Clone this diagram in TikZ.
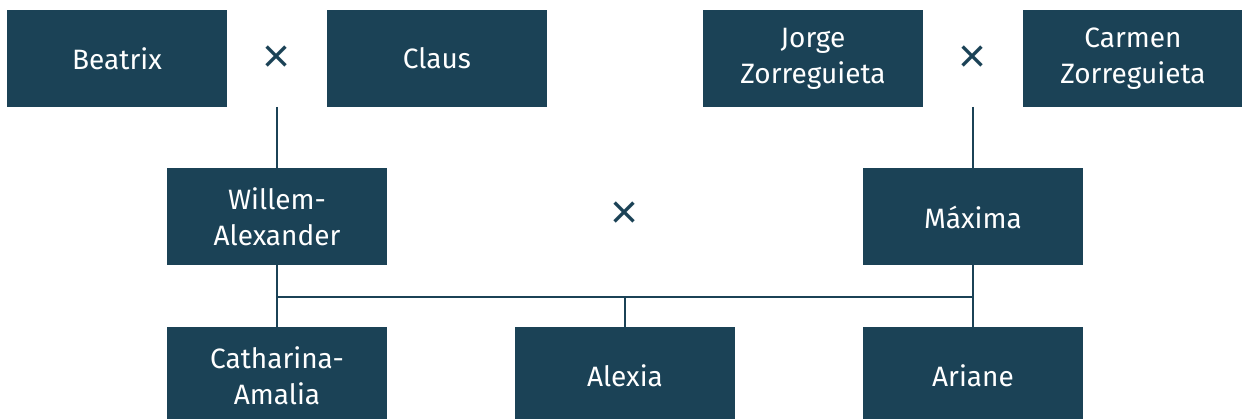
\documentclass[tikz,border=0pt]{standalone}
\usepackage{fontspec}
\setmainfont{Fira Sans}
\newfontfamily\crossfont{Liberation Sans}
\usepackage{tikz}
\definecolor{royal}{HTML}{1B4256}

\begin{document}
\begin{tikzpicture}[x=1pt,y=-1pt,
  person/.style={fill=royal, text=white, minimum width=220pt, minimum height=97pt, align=center, inner sep=0pt, outer sep=0pt, font=\fontsize{28}{36}\selectfont},
  wed/.style={text=royal, inner sep=0pt, font=\crossfont\fontsize{48}{50}\selectfont},
  tie/.style={draw=royal, line width=2pt}]
\useasboundingbox (0,0) rectangle (1242,419);

\node[person] (beatrix) at (117,58.5) {Beatrix};
\node[person] (claus) at (437,58.5) {Claus};
\node[person] (jorge) at (813,58.5) {Jorge\\Zorreguieta};
\node[person] (carmen) at (1133,58.5) {Carmen\\Zorreguieta};
\node[wed] (bc) at (277,59.5) {×};
\node[wed] (jc) at (973,59.5) {×};

\node[person] (willem) at (277,217) {Willem-\\Alexander};
\node[person] (maxima) at (973,217) {Máxima};
\node[wed] (wm) at (625,215) {×};

\node[person] (catharina) at (277,375.5) {Catharina-\\Amalia};
\node[person] (alexia) at (625,375.5) {Alexia};
\node[person] (ariane) at (973,375.5) {Ariane};
\coordinate (bar) at (625,297);

\draw[tie] (willem.north |- beatrix.south) -- (willem.north);
\draw[tie] (maxima.north |- jorge.south) -- (maxima.north);
\draw[tie] (willem.south) -- (catharina.north);
\draw[tie] (maxima.south) -- (ariane.north);
\draw[tie] (catharina.north |- bar) -- (ariane.north |- bar);
\draw[tie] (bar) -- (alexia.north);
\end{tikzpicture}
\end{document}
